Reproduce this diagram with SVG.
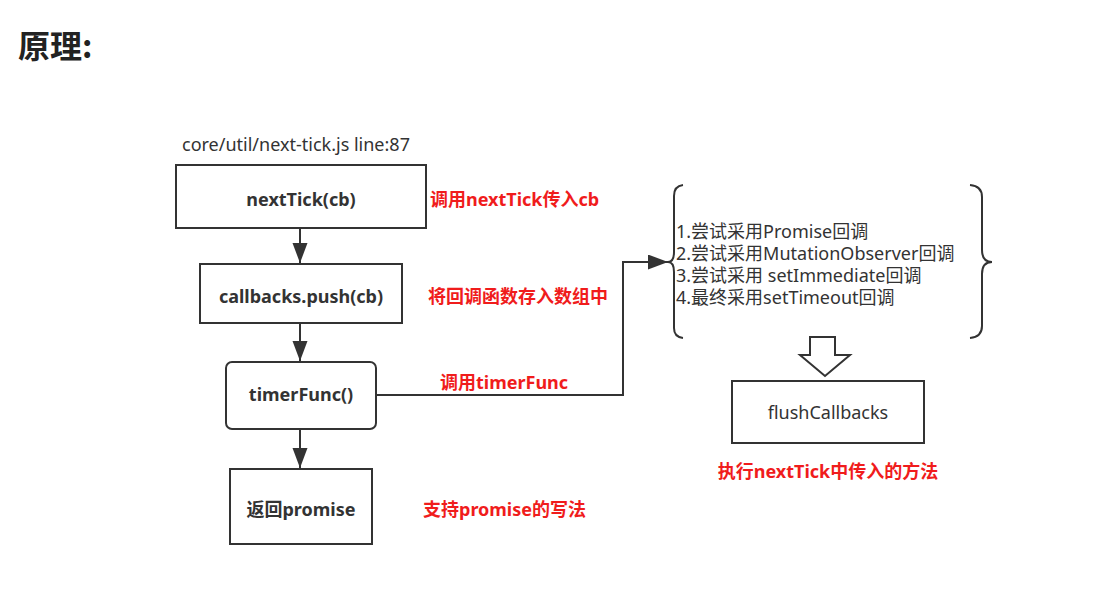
<svg xmlns="http://www.w3.org/2000/svg" width="1094" height="598" viewBox="0 0 1094 598">
<defs>
<style>
.box{fill:#fff;stroke:#333;stroke-width:2}
.lbl{font-family:"Noto Sans","Noto Sans CJK SC",sans-serif;font-size:18px;font-weight:bold;fill:#333;text-anchor:middle}
.red{font-family:"Noto Sans","Noto Sans CJK SC",sans-serif;font-size:18px;font-weight:bold;fill:#f01c1c}
.txt{font-family:"Noto Sans","Noto Sans CJK SC",sans-serif;font-size:18px;fill:#333}
.ln{fill:none;stroke:#333;stroke-width:2}
</style>
<marker id="ah" markerUnits="userSpaceOnUse" markerWidth="22" markerHeight="16" refX="20" refY="7.5" orient="auto">
<path d="M0,0 L20,7.5 L0,15 z" fill="#333"/>
</marker>
</defs>
<rect width="1094" height="598" fill="#fff"/>
<text x="18" y="58" style="font-family:'Noto Sans CJK SC',sans-serif;font-size:32px;font-weight:bold;fill:#222">原理:</text>
<text class="txt" x="182" y="151">core/util/next-tick.js line:87</text>

<g id="connectors">
<line class="ln" x1="300" y1="228" x2="300" y2="263" marker-end="url(#ah)"/>
<line class="ln" x1="300" y1="323" x2="300" y2="361" marker-end="url(#ah)"/>
<line class="ln" x1="300" y1="429" x2="300" y2="468" marker-end="url(#ah)"/>
<polyline class="ln" points="376,395 623,395 623,262 668,262" marker-end="url(#ah)"/>
<path d="M810,337 L835,337 L835,355 L850,355 L825,376 L800,355 L810,355 Z" fill="#fff" stroke="#333" stroke-width="2"/>
</g>

<g id="n1">
<rect class="box" x="176" y="165" width="250" height="63"/>
<text class="lbl" x="301" y="206">nextTick(cb)</text>
</g>
<text class="red" x="430" y="206">调用nextTick传入cb</text>

<g id="n2">
<rect class="box" x="200" y="264" width="202" height="59"/>
<text class="lbl" x="301" y="303">callbacks.push(cb)</text>
</g>
<text class="red" x="428" y="303">将回调函数存入数组中</text>

<g id="n3">
<rect class="box" x="226" y="362" width="150" height="67" rx="6"/>
<text class="lbl" x="301" y="401">timerFunc()</text>
</g>
<text class="red" x="440" y="389">调用timerFunc</text>

<g id="n4">
<rect class="box" x="230" y="469" width="142" height="75"/>
<text class="lbl" x="301" y="516">返回promise</text>
</g>
<text class="red" x="423" y="516">支持promise的写法</text>

<g id="n5">
<path class="ln" d="M683,185 Q674,186 674,196 L674,252 Q674,262 668,262 Q674,262 674,272 L674,328 Q674,337 683,338"/>
<path class="ln" d="M970,185 Q982,186 982,197 L982,250 Q982,262 992,262 Q982,262 982,274 L982,326 Q982,337 970,338"/>
<text class="txt" x="676" y="238">1.尝试采用Promise回调</text>
<text class="txt" x="676" y="260">2.尝试采用MutationObserver回调</text>
<text class="txt" x="676" y="282">3.尝试采用 setImmediate回调</text>
<text class="txt" x="676" y="304">4.最终采用setTimeout回调</text>
</g>

<g id="n6">
<rect class="box" x="732" y="381" width="192" height="62"/>
<text class="txt" x="828" y="419" text-anchor="middle">flushCallbacks</text>
</g>
<text class="red" x="828" y="478" text-anchor="middle">执行nextTick中传入的方法</text>
</svg>
